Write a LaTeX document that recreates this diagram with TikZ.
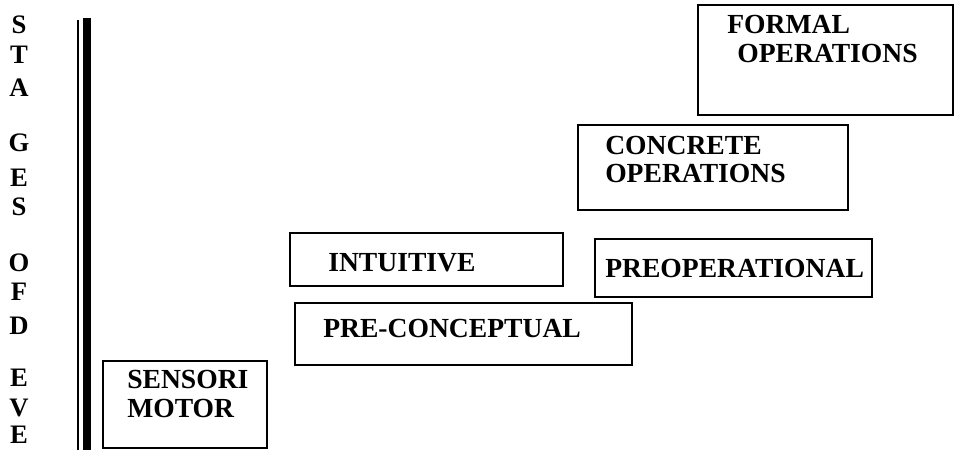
\documentclass[tikz,border=0pt]{standalone}
\usepackage{fontspec}
\setmainfont{Liberation Serif}
\usetikzlibrary{fit}
\begin{document}
\begin{tikzpicture}[x=0.75pt,y=-0.75pt,
  box/.style={draw, line width=2pt, inner sep=0pt},
  lbl/.style={font=\fontsize{20.7}{22}\selectfont\bfseries, anchor=west, inner sep=0pt},
  side/.style={font=\fontsize{20}{20}\selectfont\bfseries, inner sep=0pt}]
\useasboundingbox (0,0) rectangle (956,450);
% axis lines
\coordinate (thinTop) at (78,20);
\coordinate (thinBot) at (78,450);
\coordinate (thickTop) at (87,18);
\coordinate (thickBot) at (87,450);
\draw[line width=1.3pt] (thinTop) -- (thinBot);
\draw[line width=5.5pt] (thickTop) -- (thickBot);
% side letters
\node[side] (s1) at (19,25) {S};
\node[side] (s2) at (19,55) {T};
\node[side] (s3) at (19,88) {A};
\node[side] (s4) at (19,143) {G};
\node[side] (s5) at (19,178) {E};
\node[side] (s6) at (19,207) {S};
\node[side] (s7) at (19,263) {O};
\node[side] (s8) at (19,292) {F};
\node[side] (s9) at (19,326) {D};
\node[side] (s10) at (19,378) {E};
\node[side] (s11) at (19,408) {V};
\node[side] (s12) at (19,435) {E};
% boxes
\node[box, fit={(103,361) (267,448)}] (sm) {};
\node[box, fit={(295,303) (632,365)}] (pc) {};
\node[box, fit={(290,233) (563,286)}] (in) {};
\node[box, fit={(595,239) (872,297)}] (po) {};
\node[box, fit={(578,125) (848,210)}] (co) {};
\node[box, fit={(698,5) (953,115)}] (fo) {};
% labels
\node[lbl] (smA) at (127,379) {SENSORI};
\node[lbl] (smB) at (127,408) {MOTOR};
\node[lbl] (inT) at (328,263) {INTUITIVE};
\node[lbl] (pcT) at (323,328) {PRE-CONCEPTUAL};
\node[lbl] (poT) at (605,268) {PREOPERATIONAL};
\node[lbl] (coA) at (605,145) {CONCRETE};
\node[lbl] (coB) at (605,173) {OPERATIONS};
\node[lbl] (foA) at (727,24) {FORMAL};
\node[lbl] (foB) at (737,53) {OPERATIONS};
\end{tikzpicture}
\end{document}
